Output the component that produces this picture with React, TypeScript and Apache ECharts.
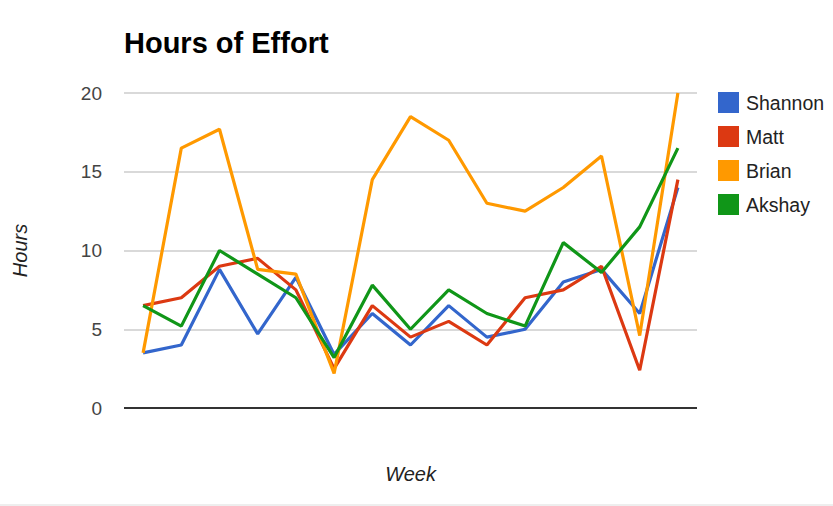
import React, { useEffect, useRef } from "react";
import * as echarts from "echarts";

const weeks = ["1", "2", "3", "4", "5", "6", "7", "8", "9", "10", "11", "12", "13", "14", "15"];
const shannon = [3.5, 4, 8.8, 4.7, 8.3, 3.4, 6, 4, 6.5, 4.5, 5, 8, 8.8, 6, 14];
const matt = [6.5, 7, 9, 9.5, 7.5, 2.5, 6.5, 4.5, 5.5, 4, 7, 7.5, 9, 2.4, 14.5];
const brian = [3.5, 16.5, 17.7, 8.8, 8.5, 2.2, 14.5, 18.5, 17, 13, 12.5, 14, 16, 4.6, 20];
const akshay = [6.5, 5.2, 10, 8.5, 7, 3.2, 7.8, 5, 7.5, 6, 5.2, 10.5, 8.6, 11.5, 16.5];

const seriesNames = ["Shannon", "Matt", "Brian", "Akshay"];
const seriesData = [shannon, matt, brian, akshay];
const colors = ["#3366cc", "#dc3912", "#ff9900", "#109618"];

export default function App() {
  const ref = useRef<HTMLDivElement>(null);
  useEffect(() => {
    if (!ref.current) return;
    const chart = echarts.init(ref.current, null, { renderer: "svg" });
    chart.setOption({
      animation: false,
      color: colors,
      title: {
        text: "Hours of Effort",
        left: 119,
        top: 23,
        textStyle: { fontFamily: "Arial, Liberation Sans", fontWeight: "bold", fontSize: 29, color: "#000" },
      },
      legend: {
        orient: "vertical",
        left: 713,
        top: 87,
        itemWidth: 21,
        itemHeight: 21,
        itemGap: 13,
        icon: "rect",
        data: seriesNames,
        textStyle: { fontFamily: "Arial, Liberation Sans", fontSize: 19.5, color: "#222", padding: [0, 0, 0, 2] },
      },
      grid: { left: 124, right: 136, top: 93, bottom: 98, containLabel: false },
      xAxis: {
        type: "category",
        data: weeks,
        boundaryGap: true,
        name: "Week",
        nameLocation: "middle",
        nameGap: 56,
        nameTextStyle: { fontFamily: "Arial, Liberation Sans", fontStyle: "italic", fontSize: 20, color: "#222" },
        axisLine: { show: false },
        axisTick: { show: false },
        axisLabel: { show: false },
      },
      yAxis: {
        type: "value",
        min: 0,
        max: 20,
        interval: 5,
        name: "Hours",
        nameLocation: "middle",
        nameGap: 94,
        nameTextStyle: { fontFamily: "Arial, Liberation Sans", fontStyle: "italic", fontSize: 20, color: "#222" },
        axisLine: { show: false },
        axisTick: { show: false },
        axisLabel: { fontFamily: "Arial, Liberation Sans", fontSize: 19, color: "#444", margin: 22 },
        splitLine: { lineStyle: { color: "#cccccc", width: 1.5 } },
      },
      series: [
        ...seriesNames.map((n, i) => ({
          name: n,
          type: "line",
          data: seriesData[i],
          symbol: "none",
          lineStyle: { width: 3.2, color: colors[i] },
          itemStyle: { color: colors[i] },
          markLine: i === 0 ? {
            silent: true,
            symbol: "none",
            label: { show: false },
            lineStyle: { color: "#333", width: 2, type: "solid" },
            data: [{ yAxis: 0 }],
          } : undefined,
        })),
      ],
      graphic: [
        { type: "rect", left: 0, top: 504, shape: { width: 833, height: 2 }, style: { fill: "#eeeeee" } },
      ],
    });
    return () => chart.dispose();
  }, []);
  return <div ref={ref} style={{ position: "absolute", left: 0, top: 0, width: 833, height: 506 }} />;
}
